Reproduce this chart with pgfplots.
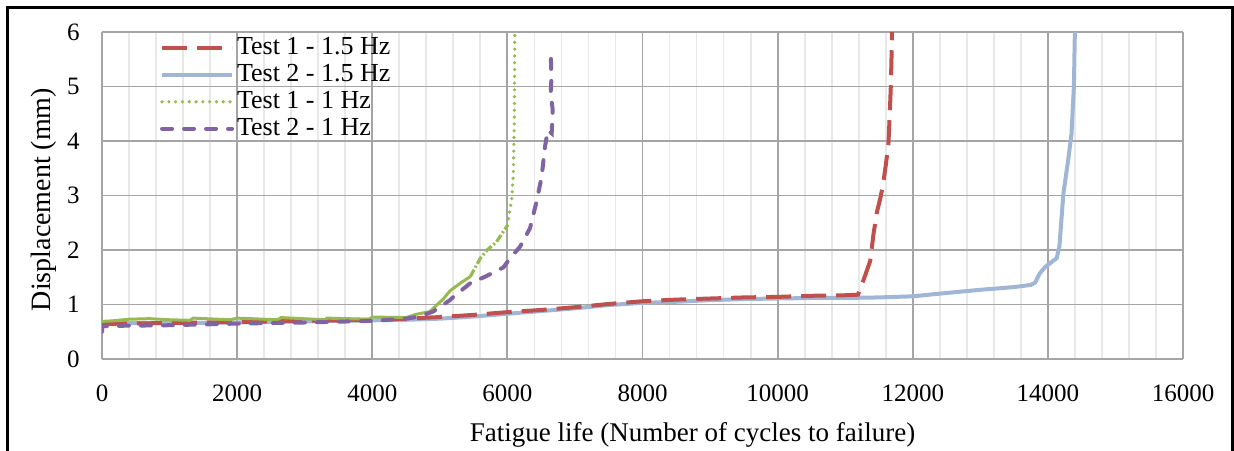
\documentclass[border=0pt]{standalone}
\usepackage{pgfplots}
\pgfplotsset{compat=1.18}
\usepackage{fontspec}
\setmainfont{Liberation Serif}
\definecolor{cred}{RGB}{192,80,77}
\definecolor{cblue}{RGB}{160,182,212}
\definecolor{cgreen}{RGB}{150,185,80}
\definecolor{cpurple}{RGB}{128,100,162}
\definecolor{gmaj}{RGB}{165,165,165}
\definecolor{gmin}{RGB}{232,232,232}
\newcommand{\fs}{\fontsize{12.5}{15}\selectfont}
\tikzset{
 redst/.style={draw=cred, line width=2pt, dash pattern=on 12.5pt off 5pt},
 bluest/.style={draw=cblue, line width=2pt},
 greenst/.style={draw=cgreen, line width=1.5pt},
 greendash/.style={draw=cgreen, line width=1.6pt, dash pattern=on 4pt off 1.2pt on 1pt off 1.2pt},
 greendot/.style={draw=cgreen, line width=1.8pt, line cap=round, dash pattern=on 0pt off 3.4pt},
 purplest/.style={draw=cpurple, line width=2pt, line cap=round, dash pattern=on 5pt off 6pt},
}
\begin{document}
\begin{tikzpicture}
\clip (0,0) rectangle (617pt,-225pt);
\fill[white] (0,0) rectangle (617pt,-225pt);
\begin{axis}[
 at={(51pt,-179.5pt)}, anchor=south west,
 scale only axis, width=540.5pt, height=163.5pt,
 xmin=0, xmax=16000, ymin=0, ymax=6,
 xtick={0,2000,...,16000}, ytick={0,1,...,6},
 minor x tick num=4,
 xmajorgrids, xminorgrids, ymajorgrids,
 major grid style={draw=gmaj, line width=0.9pt},
 minor grid style={draw=gmin, line width=0.9pt},
 axis line style={draw=none},
 major tick length=0pt, minor tick length=0pt,
 tick style={draw=none},
 scaled x ticks=false,
 /pgf/number format/assume math mode=true,
 /pgf/number format/1000 sep={},
 tick label style={font=\fs},
 xticklabel style={inner sep=0pt, anchor=north, yshift=-12.75pt},
 yticklabel style={inner sep=0pt, anchor=east, xshift=-11pt},
 xlabel={Fatigue life (Number of cycles to failure)},
 ylabel={Displacement (mm)},
 label style={inner sep=0pt},
 xlabel style={font=\fontsize{13.5}{16}\selectfont, at={(axis description cs:0.5463,-0.2508)}, anchor=base},
 ylabel style={font=\fontsize{14}{17}\selectfont, at={(axis description cs:-0.0481,0.4878)}, anchor=base, rotate=0},
 legend style={at={(axis description cs:0.0537,0.987)}, anchor=north west,
   draw=none, fill=none, inner sep=0pt, outer sep=0pt, row sep=2pt,
   column sep=1.5pt, font=\fontsize{13}{15}\selectfont,
   nodes={inner sep=0pt, text height=9pt, text depth=2.5pt}},
 legend cell align=left,
 legend image code/.code={\draw[#1] (0pt,0pt) -- (35pt,0pt);},
 clip mode=individual,
]
\addlegendimage{redst}
\addlegendentry{Test 1 - 1.5 Hz}
\addlegendimage{bluest}
\addlegendentry{Test 2 - 1.5 Hz}
\addlegendimage{greendot}
\addlegendentry{Test 1 - 1 Hz}
\addlegendimage{purplest}
\addlegendentry{Test 2 - 1 Hz}

% Test 2 - 1.5 Hz
\addplot[bluest, forget plot] table {
x y
0 0.65
500 0.66
1000 0.66
2000 0.67
3000 0.69
4000 0.71
4500 0.72
5000 0.74
5500 0.78
6000 0.83
6500 0.88
7000 0.93
7500 0.99
8000 1.03
8500 1.05
9000 1.08
9500 1.10
10000 1.11
10500 1.12
11000 1.12
11500 1.13
12000 1.15
12400 1.20
13000 1.27
13500 1.32
13750 1.36
13810 1.40
13880 1.57
13960 1.69
14130 1.85
14170 2.06
14230 3.04
14300 3.65
14350 4.14
14385 5.00
14400 6.05
};

% Test 1 - 1.5 Hz
\addplot[redst, forget plot] table {
x y
0 0.64
300 0.65
1000 0.66
2000 0.68
3000 0.70
4000 0.72
4500 0.74
5000 0.77
5500 0.81
6000 0.86
6500 0.90
7000 0.95
7500 1.01
8000 1.06
8500 1.09
9000 1.11
9500 1.13
10000 1.14
10500 1.16
11000 1.17
11190 1.18
11245 1.36
11300 1.55
11370 1.80
11420 2.30
11470 2.70
11520 2.95
11560 3.20
11600 3.55
11640 3.95
11660 4.50
11675 5.00
11685 5.50
11692 6.05
};

% Test 1 - 1 Hz (dense part looks solid)
\addplot[greenst, forget plot] table {
x y
0 0.69
150 0.70
400 0.73
700 0.74
1000 0.72
1300 0.71
1350 0.75
1900 0.72
2000 0.75
2600 0.72
2650 0.76
3300 0.72
3330 0.75
3950 0.73
4000 0.77
4500 0.76
4650 0.82
4850 0.87
5050 1.10
5150 1.25
5300 1.39
5450 1.51
};
\addplot[greendash, forget plot] table {
x y
5450 1.51
5600 1.85
5700 2.00
5840 2.15
5920 2.30
6000 2.45
};
\addplot[greendot, forget plot] table {
x y
6000 2.45
6040 2.75
6065 2.95
6088 3.40
6103 4.40
6108 5.60
6110 6.05
};

% Test 2 - 1 Hz
\addplot[purplest, forget plot] table {
x y
0 0.50
5 0.60
300 0.61
1000 0.62
2000 0.65
3000 0.67
4000 0.70
4500 0.74
4700 0.78
4900 0.87
5150 1.08
5200 1.14
5450 1.39
5670 1.51
5940 1.68
6040 1.85
6187 2.06
6335 2.40
6434 2.90
6508 3.35
6557 3.90
6600 4.20
6656 4.14
6671 4.57
6641 4.88
6651 5.12
6641 5.72
};
\end{axis}
\draw[line width=1.5pt] (3.75pt,-240pt) -- (3.75pt,-3.75pt) -- (616.25pt,-3.75pt) -- (616.25pt,-240pt);
\end{tikzpicture}
\end{document}
